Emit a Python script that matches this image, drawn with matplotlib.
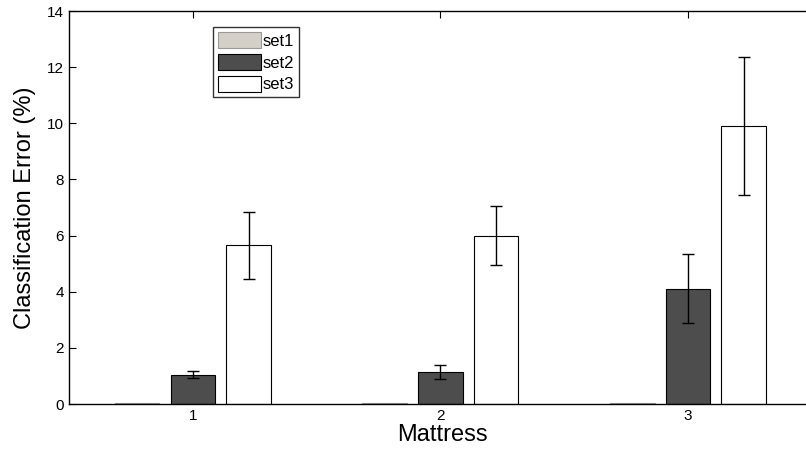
import numpy as np
import matplotlib
matplotlib.use("Agg")
import matplotlib.pyplot as plt

plt.rcParams['font.family'] = ['Liberation Sans', 'DejaVu Sans']

# Dados
mattress = [1, 2, 3]
series = ["set1", "set2", "set3"]
set1_vals = [0.02, 0.02, 0.02]
set1_err = [0.0, 0.0, 0.0]
set2_vals = [1.05, 1.15, 4.1]
set2_err = [0.12, 0.25, 1.23]
set3_vals = [5.65, 6.0, 9.9]
set3_err = [1.18, 1.05, 2.45]
yticks = [0, 2, 4, 6, 8, 10, 12, 14]

cores = ["#d4d0c8", "#4d4d4d", "#ffffff"]
bordas = ["#9a9a9a", "#000000", "#000000"]

fig = plt.figure(figsize=(8.06, 4.54), dpi=100)
ax = fig.add_axes([69 / 806, 50 / 454, (815 - 69) / 806, (404 - 11) / 454])

x = np.array(mattress, dtype=float)
largura = 0.18
desloc = 0.225
valores = [set1_vals, set2_vals, set3_vals]
erros = [set1_err, set2_err, set3_err]
for i, (nome, v, e) in enumerate(zip(series, valores, erros)):
    pos = x + (i - 1) * desloc
    ax.bar(pos, v, width=largura, color=cores[i], edgecolor=bordas[i],
           linewidth=0.8, label=nome, zorder=2)
    if i > 0:
        ax.errorbar(pos, v, yerr=e, fmt="none", ecolor="black",
                    elinewidth=1, capsize=4, capthick=1, zorder=3)

ax.set_xlim(0.5, 3.513)
ax.set_ylim(0, 14)
ax.set_xticks(mattress)
ax.set_yticks(yticks)
ax.tick_params(direction="in", top=True, right=True, labelsize=11, length=5)
for s in ax.spines.values():
    s.set_linewidth(1)

ax.set_xlabel("Mattress", fontsize=17, labelpad=1)
ax.set_ylabel("Classification Error (%)", fontsize=17, labelpad=8)

leg = ax.legend(loc="upper left", bbox_to_anchor=(0.193, 0.96), fontsize=12,
                frameon=True, fancybox=False, edgecolor="black",
                handlelength=2.6, handleheight=1.15, handletextpad=0.1,
                labelspacing=0.3, borderpad=0.3, borderaxespad=0)
leg.get_frame().set_linewidth(1)

fig.savefig("out.png", dpi=100)
